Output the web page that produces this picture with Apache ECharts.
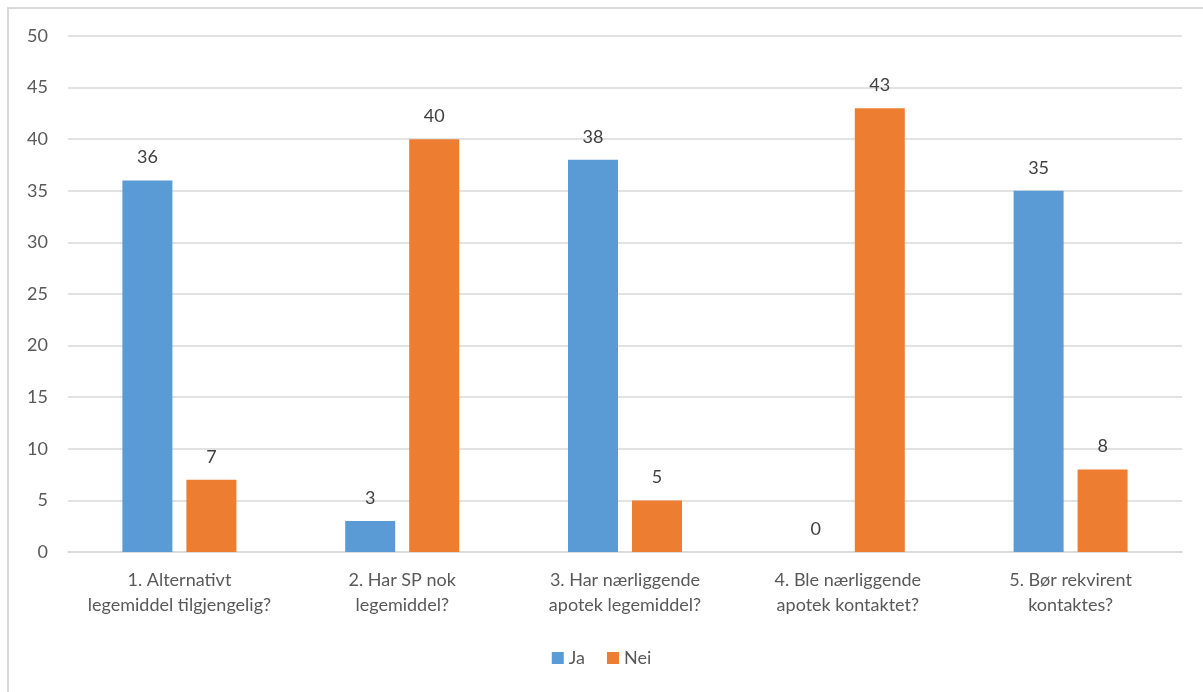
<!DOCTYPE html>
<html><head><meta charset="utf-8">
<script src="https://cdn.jsdelivr.net/npm/echarts@6/dist/echarts.min.js"></script>
<style>html,body{margin:0;padding:0;background:#fff}#c{width:1203px;height:692px}</style>
</head><body><div id="c"></div>
<script>
const categories = ["1. Alternativt\nlegemiddel tilgjengelig?", "2. Har SP nok\nlegemiddel?", "3. Har nærliggende\napotek legemiddel?", "4. Ble nærliggende\napotek kontaktet?", "5. Bør rekvirent\nkontaktes?"];
const ja = [36, 3, 38, 0, 35];
const nei = [7, 40, 5, 43, 8];
const yTicks = {min: 0, max: 50, interval: 5};

const chart = echarts.init(document.getElementById('c'));
const font = 'Lato, "Open Sans", sans-serif';
chart.setOption({
  animation: false,
  textStyle: {fontFamily: font},
  graphic: [{type: 'rect', shape: {x: 8, y: 8, width: 1400, height: 900}, style: {fill: 'none', stroke: '#d9d9d9', lineWidth: 2}, silent: true}],
  grid: {left: 68, right: 21, top: 36, bottom: 140},
  legend: {bottom: 20, left: 'center', itemWidth: 12, itemHeight: 12, itemGap: 22, icon: 'rect',
    textStyle: {fontSize: 18, color: '#595959', fontFamily: font}},
  xAxis: {type: 'category', data: categories,
    axisLine: {lineStyle: {color: '#d9d9d9', width: 1.5}}, axisTick: {show: false},
    axisLabel: {fontSize: 18, color: '#595959', lineHeight: 25, margin: 16, interval: 0, fontFamily: font}},
  yAxis: {type: 'value', min: yTicks.min, max: yTicks.max, interval: yTicks.interval,
    axisLine: {show: false}, axisTick: {show: false},
    axisLabel: {fontSize: 18, color: '#595959', margin: 20, fontFamily: font},
    splitLine: {lineStyle: {color: '#d9d9d9', width: 1.5}}},
  series: [
    {name: 'Ja', type: 'bar', data: ja, barWidth: 50, barGap: '28%', itemStyle: {color: '#5B9BD5'},
      label: {show: true, position: 'top', distance: 14, fontSize: 18, color: '#404040', fontFamily: font}},
    {name: 'Nei', type: 'bar', data: nei, barWidth: 50, itemStyle: {color: '#ED7D31'},
      label: {show: true, position: 'top', distance: 14, fontSize: 18, color: '#404040', fontFamily: font}}
  ]
});
</script></body></html>
